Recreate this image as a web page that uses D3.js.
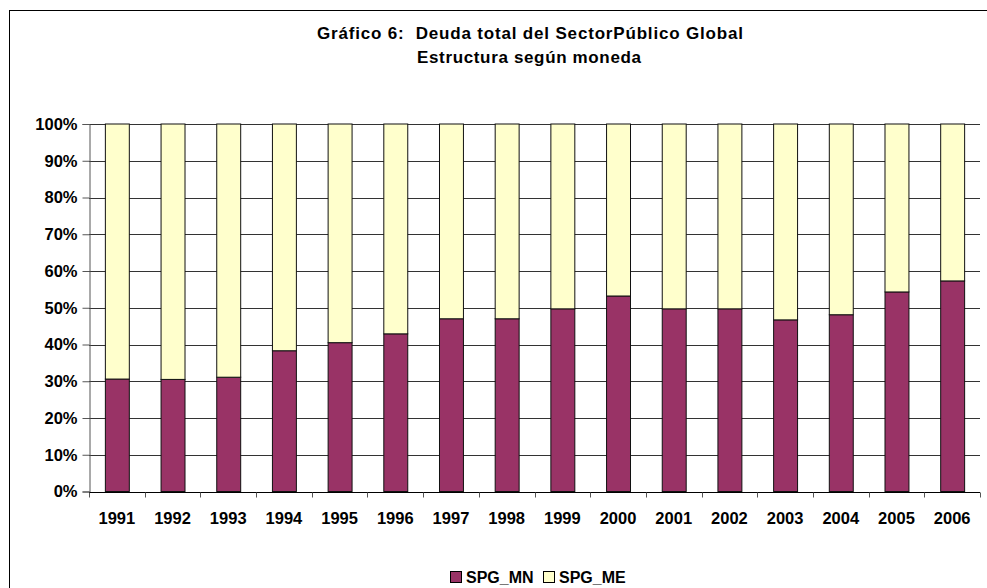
<!DOCTYPE html>
<html>
<head>
<meta charset="utf-8">
<script src="https://cdn.jsdelivr.net/npm/d3@7"></script>
<style>
  body { margin: 0; background: #fff; }
  svg { display: block; font-family: "Liberation Sans", Arial, sans-serif; }
</style>
</head>
<body>
<svg width="987" height="588"></svg>
<script>
var years = ['1991','1992','1993','1994','1995','1996','1997','1998','1999','2000','2001','2002','2003','2004','2005','2006'];
// share in moneda nacional / moneda extranjera (%)
var spgMN = [30.6, 30.5, 31.1, 38.3, 40.5, 42.9, 47.0, 47.0, 49.7, 53.2, 49.7, 49.7, 46.7, 48.1, 54.3, 57.3];
var spgME = [69.4, 69.5, 68.9, 61.7, 59.5, 57.1, 53.0, 53.0, 50.3, 46.8, 50.3, 50.3, 53.3, 51.9, 45.7, 42.7];
var yTicks = [0, 10, 20, 30, 40, 50, 60, 70, 80, 90, 100];
var seriesNames = ['SPG_MN', 'SPG_ME'];
var colors = {SPG_MN: '#993366', SPG_ME: '#FFFFCC'};

var svg = d3.select('svg');

// outer chart frame (runs off the right/bottom edge)
svg.append('rect')
    .attr('x', 9.5).attr('y', 10.5)
    .attr('width', 1000).attr('height', 600)
    .attr('fill', 'none').attr('stroke', '#000');

var rows = years.map(function(y, i){
    return {year: y, SPG_MN: spgMN[i], SPG_ME: spgME[i]};
});

var x = d3.scaleBand().domain(years).range([89, 980]).paddingInner(0.57).paddingOuter(0.285);
var y = d3.scaleLinear().domain([0, 1]).range([491.5, 124]);

// gridlines
svg.selectAll('.grid')
    .data(yTicks.slice(1)).enter()
    .append('line')
    .attr('x1', 89).attr('x2', 980)
    .attr('y1', function(d){ return Math.round(y(d / 100)) + 0.5 })
    .attr('y2', function(d){ return Math.round(y(d / 100)) + 0.5 })
    .attr('stroke', '#333');

var stacked = d3.stack().keys(seriesNames).offset(d3.stackOffsetExpand)(rows);

svg.selectAll('.layer')
    .data(stacked).enter()
    .append('g')
    .attr('fill', function(d){ return colors[d.key] })
    .selectAll('rect')
    .data(function(d){ return d }).enter()
    .append('rect')
    .attr('x', function(d){ return x(d.data.year) + 0.5 })
    .attr('width', x.bandwidth())
    .attr('y', function(d){ return y(d[1]) })
    .attr('height', function(d){ return y(d[0]) - y(d[1]) })
    .attr('stroke', '#111')
    .attr('stroke-width', 1);

// y axis
var yAxis = d3.axisLeft(y)
    .tickValues(yTicks.map(function(d){ return d / 100 }))
    .tickFormat(d3.format('.0%'))
    .tickSize(7).tickPadding(5);
var ya = svg.append('g').attr('transform', 'translate(89.5,0)').call(yAxis);
ya.select('.domain').attr('stroke', '#555');
ya.selectAll('.tick line').attr('stroke', '#555');
ya.selectAll('text')
    .attr('font-size', '16.5px').attr('font-weight', 'bold')
    .attr('font-family', '"Liberation Sans", Arial, sans-serif').attr('fill', '#000');

// x axis with ticks between categories
var xa = svg.append('g').attr('transform', 'translate(0,' + (Math.round(y(0)) + 0.5) + ')');
xa.append('line').attr('x1', 89).attr('x2', 980).attr('stroke', '#000');
xa.selectAll('.xtick')
    .data(years.concat(['end'])).enter()
    .append('line')
    .attr('x1', function(d, i){ return Math.round(89 + i * x.step()) + 0.5 })
    .attr('x2', function(d, i){ return Math.round(89 + i * x.step()) + 0.5 })
    .attr('y1', 0).attr('y2', 5)
    .attr('stroke', '#555');
xa.selectAll('.xlabel')
    .data(years).enter()
    .append('text')
    .attr('x', function(d){ return x(d) + x.bandwidth() / 2 })
    .attr('y', 31)
    .attr('text-anchor', 'middle')
    .attr('font-size', '16.5px').attr('font-weight', 'bold')
    .text(function(d){ return d });

// title
svg.append('text')
    .attr('x', 530).attr('y', 39)
    .attr('text-anchor', 'middle')
    .attr('font-size', '17px').attr('font-weight', 'bold')
    .attr('textLength', 426).attr('lengthAdjust', 'spacing')
    .style('white-space', 'pre')
    .text('Gráfico 6:  Deuda total del SectorPúblico Global');
svg.append('text')
    .attr('x', 529).attr('y', 63)
    .attr('text-anchor', 'middle')
    .attr('font-size', '17px').attr('font-weight', 'bold')
    .attr('textLength', 224).attr('lengthAdjust', 'spacing')
    .text('Estructura según moneda');

// legend
var legendX = [450, 543];
var lg = svg.selectAll('.legend')
    .data(seriesNames).enter()
    .append('g')
    .attr('transform', function(d, i){ return 'translate(' + legendX[i] + ',571)' });
lg.append('rect')
    .attr('x', 0.5).attr('y', 0.5)
    .attr('width', 11).attr('height', 11)
    .attr('fill', function(d){ return colors[d] })
    .attr('stroke', '#000');
lg.append('text')
    .attr('x', 16).attr('y', 12)
    .attr('font-size', '16px').attr('font-weight', 'bold')
    .text(function(d){ return d });
</script>
</body>
</html>
